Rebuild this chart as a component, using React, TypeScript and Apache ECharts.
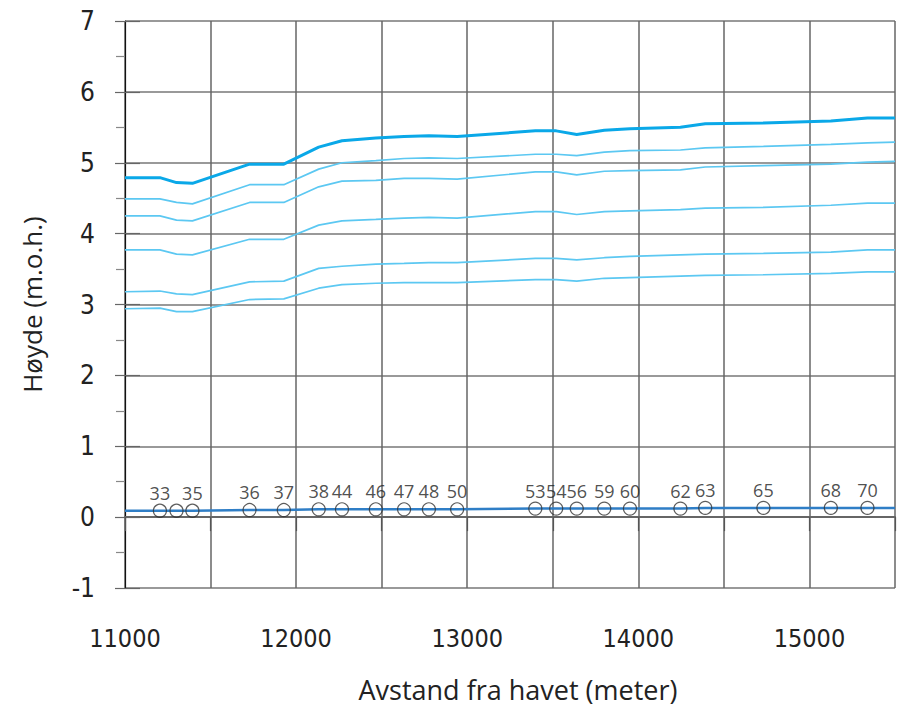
import React, { useEffect, useRef } from "react";
import * as echarts from "echarts";

// Distance from the sea (m) for each profile point
const profileX = [
  11000, 11204, 11301, 11394, 11728, 11928, 12132, 12268, 12466, 12631, 12776, 12941,
  13398, 13520, 13640, 13801, 13951, 14246, 14391, 14731, 15125, 15339, 15500,
];

// Water-level lines (m.o.h.), top (thick) to bottom
const level1 = [4.79, 4.79, 4.72, 4.71, 4.98, 4.98, 5.22, 5.31, 5.35, 5.37, 5.38, 5.37, 5.45, 5.45, 5.40, 5.46, 5.48, 5.50, 5.55, 5.56, 5.59, 5.63, 5.63];
const level2 = [4.49, 4.49, 4.44, 4.42, 4.69, 4.69, 4.91, 5.0, 5.03, 5.06, 5.07, 5.06, 5.12, 5.12, 5.10, 5.15, 5.17, 5.18, 5.21, 5.23, 5.26, 5.28, 5.29];
const level3 = [4.25, 4.25, 4.19, 4.18, 4.44, 4.44, 4.66, 4.74, 4.75, 4.78, 4.78, 4.77, 4.87, 4.87, 4.83, 4.88, 4.89, 4.90, 4.94, 4.96, 4.98, 5.01, 5.02];
const level4 = [3.77, 3.77, 3.71, 3.70, 3.92, 3.92, 4.12, 4.18, 4.20, 4.22, 4.23, 4.22, 4.31, 4.31, 4.27, 4.31, 4.32, 4.34, 4.36, 4.37, 4.40, 4.43, 4.43];
const level5 = [3.18, 3.19, 3.15, 3.14, 3.32, 3.33, 3.51, 3.54, 3.57, 3.58, 3.59, 3.59, 3.65, 3.65, 3.63, 3.66, 3.68, 3.70, 3.71, 3.72, 3.74, 3.77, 3.77];
const level6 = [2.94, 2.95, 2.90, 2.90, 3.07, 3.08, 3.23, 3.28, 3.30, 3.31, 3.31, 3.31, 3.35, 3.35, 3.33, 3.37, 3.38, 3.40, 3.41, 3.42, 3.44, 3.46, 3.46];

// Normal water level (bottom line)
const waterLevel = [0.09, 0.09, 0.09, 0.09, 0.1, 0.1, 0.11, 0.11, 0.11, 0.11, 0.11, 0.11, 0.12, 0.12, 0.12, 0.12, 0.12, 0.12, 0.13, 0.13, 0.13, 0.13, 0.13];

// Cross-section labels for profile points 1..21
const stationLabels = ["33", "", "35", "36", "37", "38", "44", "46", "47", "48", "50", "53", "54", "56", "59", "60", "62", "63", "65", "68", "70"];

const xTitle = "Avstand fra havet (meter)";
const yTitle = "Høyde (m.o.h.)";

const tickFont = '"Liberation Sans Narrow", "DejaVu Sans Condensed", "Liberation Sans", sans-serif';
const titleFont = "'Open Sans', Lato, sans-serif";

export default function App() {
  const ref = useRef<HTMLDivElement>(null);

  useEffect(() => {
    if (!ref.current) return;
    const chart = echarts.init(ref.current, undefined, { renderer: "svg" });
    const toPts = (vals: number[]) => profileX.map((x, i) => [x, vals[i]]);
    const levels = [level1, level2, level3, level4, level5, level6];
    const stationPts = stationLabels.map((_, i) => [profileX[i + 1], waterLevel[i + 1]]);

    chart.setOption({
      animation: false,
      backgroundColor: "#fff",
      grid: { left: 125, right: 0, top: 21, bottom: 128 },
      xAxis: [
        {
          type: "value",
          min: 11000,
          max: 15500,
          interval: 500,
          name: xTitle,
          nameLocation: "middle",
          nameGap: 88,
          nameTextStyle: { fontSize: 27, fontFamily: titleFont, color: "#222", padding: [0, 0, 0, 16] },
          axisLine: { show: true, lineStyle: { color: "#666", width: 2 } },
          axisTick: { show: true, length: 14, lineStyle: { color: "#555", width: 1.2 } },
          axisLabel: {
            formatter: (v: number) => (v % 1000 === 0 ? String(v) : ""),
            fontSize: 25,
            fontFamily: tickFont,
            color: "#222",
            margin: 38,
          },
          splitLine: { show: true, lineStyle: { color: "#666", width: 1.5 } },
        },
      ],
      yAxis: [
        {
          type: "value",
          min: -1,
          max: 7,
          interval: 1,
          name: yTitle,
          nameLocation: "middle",
          nameGap: 80,
          nameTextStyle: { fontSize: 26, fontFamily: titleFont, color: "#222" },
          axisLine: { show: true, lineStyle: { color: "#111", width: 1.2 } },
          axisTick: { show: true, length: 10, lineStyle: { color: "#666", width: 1.2 } },
          minorTick: { show: true, splitNumber: 2, length: 9, lineStyle: { color: "#888", width: 1.2 } },
          axisLabel: { fontSize: 26, fontFamily: tickFont, color: "#222", margin: 30 },
          splitLine: { show: true, lineStyle: { color: "#777", width: 1.5 } },
        },
        {
          type: "value",
          position: "left",
          min: -1,
          max: 7,
          interval: 1,
          axisLine: { show: false },
          axisTick: { show: true, inside: true, length: 15, lineStyle: { color: "#666", width: 1.2 } },
          axisLabel: { show: false },
          splitLine: { show: false },
        },
      ],
      series: [
        ...levels.map((vals, k) => ({
          type: "line",
          data: toPts(vals),
          symbol: "none",
          lineStyle: { color: k === 0 ? "#0aa8e8" : "#5cc8f2", width: k === 0 ? 3 : 1.7 },
          z: 3,
        })),
        {
          type: "line",
          data: toPts(waterLevel),
          symbol: "none",
          lineStyle: { color: "#2f7ec6", width: 2.5 },
          z: 3,
        },
        {
          type: "scatter",
          data: stationPts,
          symbol: "circle",
          symbolSize: 13,
          itemStyle: { color: "rgba(0,0,0,0)", borderColor: "#333", borderWidth: 1.2 },
          label: {
            show: true,
            position: "top",
            distance: 2,
            formatter: (p: any) => stationLabels[p.dataIndex],
            fontSize: 18,
            fontFamily: titleFont,
            color: "#222",
          },
          z: 4,
        },
      ],
    });
    return () => chart.dispose();
  }, []);

  return (
    <div
      ref={ref}
      style={{ position: "absolute", left: 0, top: 0, width: 898, height: 716 }}
    />
  );
}
